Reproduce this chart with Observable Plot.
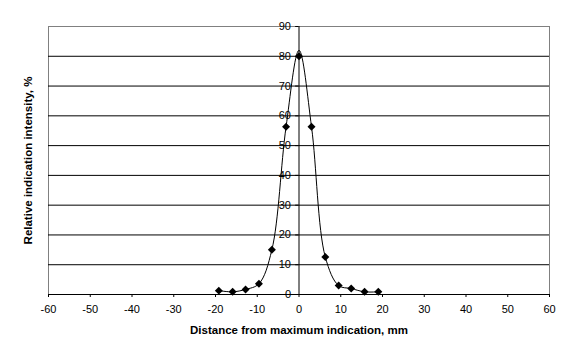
<!DOCTYPE html>
<html>
<head>
<meta charset="utf-8">
<script src="https://cdn.jsdelivr.net/npm/d3@7"></script>
<script src="https://cdn.jsdelivr.net/npm/@observablehq/plot@0.6"></script>
<style>
  html, body { margin: 0; padding: 0; background: #fff; }
  svg { display: block; }
</style>
</head>
<body>
<div id="chart"></div>
<script>
// Measured points (markers)
const distance = [-19.2, -15.9, -12.8, -9.6, -6.5, -3.1, 0, 3.0, 6.3, 9.5, 12.5, 15.7, 19.0];
const intensity = [1.3, 0.9, 1.7, 3.6, 15.0, 56.3, 80.0, 56.3, 12.6, 3.0, 2.0, 0.9, 0.9];
// Smoothed line as drawn (peak of the line read at ~82)
const lineIntensity = [1.3, 0.9, 1.7, 3.6, 15.0, 56.3, 82.0, 56.3, 12.6, 3.0, 2.0, 0.9, 0.9];

const xTicks = [-60, -50, -40, -30, -20, -10, 0, 10, 20, 30, 40, 50, 60];
const yTicks = [0, 10, 20, 30, 40, 50, 60, 70, 80, 90];
const gridY = [10, 20, 30, 40, 50, 60, 70, 80];

const xLabel = "Distance from maximum indication, mm";
const yLabel = "Relative indication intensity, %";

const points = distance.map((d, i) => ({x: d, y: intensity[i]}));
const linePts = distance.map((d, i) => ({x: d, y: lineIntensity[i]}));

const font = "Liberation Sans, Arial, sans-serif";

const chart = Plot.plot({
  width: 576,
  height: 360,
  marginLeft: 48,
  marginRight: 27,
  marginTop: 26,
  marginBottom: 66,
  style: {fontFamily: font, fontSize: "11px", color: "#000", background: "#fff"},
  x: {domain: [-60, 60]},
  y: {domain: [0, 90], axis: null},
  marks: [
    Plot.frame({stroke: "#808080"}),
    Plot.ruleY(gridY, {stroke: "#000", strokeWidth: 1}),
    Plot.ruleY([0], {stroke: "#000", strokeWidth: 1}),
    Plot.axisX({ticks: xTicks, tickSize: 3, tickPadding: 8, tickFormat: d => String(d).replace("−", "-"), label: null, stroke: "#000", fill: "#000", fontSize: 11}),
    Plot.text([xLabel], {frameAnchor: "bottom", dy: 36, lineAnchor: "middle", textAnchor: "middle", fontWeight: "bold", fontSize: 11.5, fill: "#000"}),
    Plot.text([yLabel], {frameAnchor: "left", dx: -20, rotate: -90, textAnchor: "middle", lineAnchor: "middle", fontWeight: "bold", fontSize: 11.5, fill: "#000"}),
    Plot.ruleX([0], {stroke: "#000", strokeWidth: 1}),
    Plot.ruleY(yTicks, {x1: -0.8, x2: 0, stroke: "#000"}),
    Plot.text(yTicks, {x: 0, y: d => d, text: d => String(d), textAnchor: "end", dx: -8, fill: "#000", fontSize: 11}),
    Plot.line(linePts, {x: "x", y: "y", curve: "catmull-rom", stroke: "#000", strokeWidth: 1}),
    Plot.dot(points, {x: "x", y: "y", symbol: "diamond2", r: 3.6, fill: "#000", stroke: "none"})
  ]
});
document.getElementById("chart").append(chart);
</script>
</body>
</html>
